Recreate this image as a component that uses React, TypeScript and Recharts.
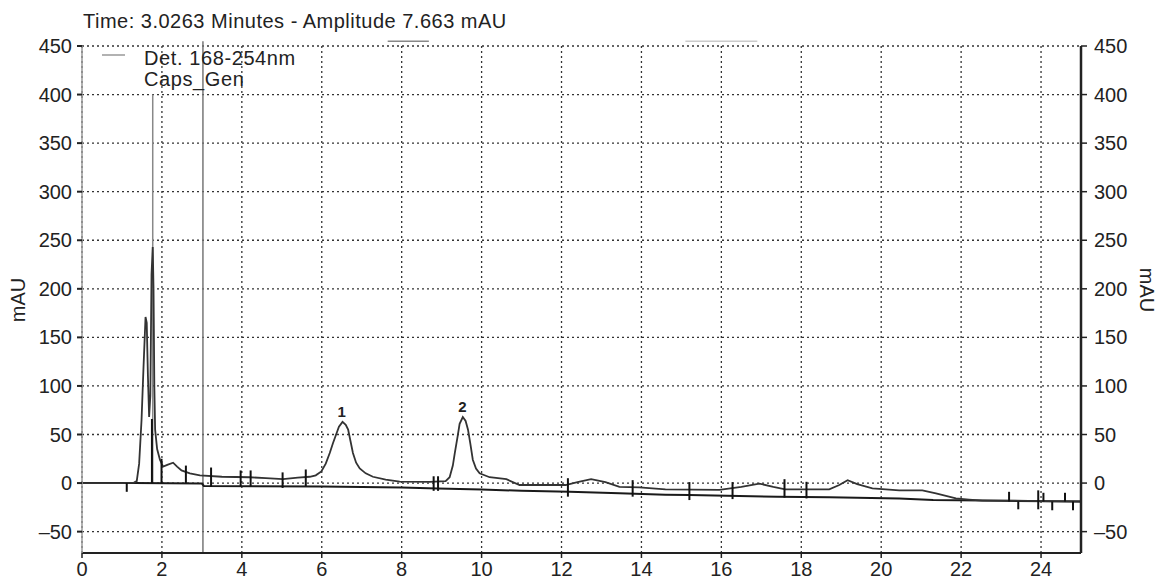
import React from "react";
import {
  LineChart,
  Line,
  XAxis,
  YAxis,
  CartesianGrid,
  ReferenceLine,
  ReferenceDot,
} from "recharts";

// Chromatogram signal (time in minutes, amplitude in mAU)
const signalTime = [
  0, 0.5, 1.0, 1.3, 1.37, 1.43, 1.49, 1.54, 1.59, 1.62, 1.65, 1.68, 1.71, 1.74, 1.77, 1.79, 1.81, 1.83,
  1.88, 1.95, 2.03, 2.15, 2.28, 2.38, 2.49, 2.7, 2.95, 3.5, 4.2, 4.6, 5.03, 5.4, 5.7, 5.85, 5.99, 6.1,
  6.2, 6.28, 6.43, 6.52, 6.6, 6.66, 6.72, 6.78, 6.86, 6.95, 7.1, 7.28, 7.6, 7.95, 8.7, 9.1, 9.2, 9.28,
  9.33, 9.4, 9.45, 9.53, 9.6, 9.66, 9.72, 9.78, 9.86, 9.95, 10.2, 10.62, 10.95, 11.6, 12.1, 12.4, 12.74,
  13.1, 13.45, 13.95, 14.6, 15.95, 16.5, 16.95, 17.3, 17.6, 18.7, 18.95, 19.16, 19.4, 19.78, 20.45, 21.03,
  21.37, 21.87, 22.2, 22.53, 23.16, 24, 25,
];
const signalValue = [
  0, 0, 0, 0.5, 2, 20, 65, 120, 171, 165, 110, 68, 90, 215, 243, 200, 100, 55,
  35, 24, 17, 19, 21, 17, 13, 10, 8, 6.5, 6, 5, 4, 5.5, 6.5, 8, 12, 20,
  31, 41, 58, 63, 60, 55, 43, 31, 21, 15, 10, 6.5, 3.5, 1.5, 1.3, 2, 6, 18,
  31, 48, 61, 68, 64, 55, 40, 24, 15, 10, 6, 4, -2, -2, -2, 1, 4,
  1, -4, -4.5, -6.5, -7, -4, -0.5, -4, -6.5, -6.5, -2, 3, -1, -5.5, -7.5, -7.5,
  -10.6, -15.8, -17, -18, -18, -18.5, -19,
];

// Integration baseline
const baseTime = [0, 1.3, 3.0, 3.05, 6.0, 8.0, 8.9, 10.0, 11.0, 12.2, 13.45, 14.6, 15.2, 17.4, 18.7, 20.45, 21.3, 22.53, 25];
const baseValue = [0, 0, -0.5, -3, -3.5, -4.5, -5.5, -6.5, -8, -9, -10.6, -12, -12.4, -14, -14.5, -15.8, -17.5, -18, -19];

// Peak start/end event markers
const markerTime = [1.12, 1.75, 1.99, 2.6, 3.23, 3.97, 4.22, 5.02, 5.6, 8.8, 8.91, 12.16, 13.78, 15.2, 16.28, 17.58, 18.13, 23.2, 23.43, 23.93, 24.06, 24.28, 24.6, 24.8];
const markerLow = [-9, 0, 0, 0, -4, -3, -3, -5, -3, -8, -8, -14, -14, -17.5, -16.5, -15, -15.8, -19, -27, -27, -19, -28, -19, -28];
const markerHigh = [0, 66, 25, 18, 16, 13, 13, 11, 14, 7, 7, 5, 3, 1, 1, 4, 1.3, -9, -19, -7.5, -10, -19, -10, -19];

// Peak labels
const peakNames = ["1", "2"];
const peakTime = [6.5, 9.52];
const peakLabelY = [74, 78.5];

// Axes
const xTicks = [0, 2, 4, 6, 8, 10, 12, 14, 16, 18, 20, 22, 24];
const xMinorTicks = Array.from({ length: 101 }, (_, i) => i * 0.25);
const yTicks = [-50, 0, 50, 100, 150, 200, 250, 300, 350, 400, 450];
const yMinorTicks = Array.from({ length: 52 }, (_, i) => -70 + i * 10);
const xDomain = [0, 25];
const yDomain = [-72, 450];

const cursorTime = 3.0263;
const titleText = "Time: 3.0263 Minutes - Amplitude 7.663 mAU";
const legendLine1 = "Det. 168-254nm";
const legendLine2 = "Caps_Gen";

const signalData = signalTime.map((t, i) => ({ t, v: signalValue[i] }));
const baseData = baseTime.map((t, i) => ({ t, v: baseValue[i] }));

const FONT = "'Liberation Sans', Arial, sans-serif";
const tickStyle = { fontSize: 20, fill: "#222", fontFamily: FONT };
const fmtY = (v: number) => (v < 0 ? "\u2013" + Math.abs(v) : String(v));

export default function App() {
  return (
    <div style={{ position: "absolute", left: 0, top: 0, width: 1161, height: 583, background: "#fff" }}>
      <LineChart width={1161} height={583} margin={{ top: 46, right: 0, bottom: 0, left: 0 }}>
        <XAxis
          xAxisId="minor"
          type="number"
          dataKey="t"
          domain={xDomain}
          ticks={xMinorTicks}
          allowDataOverflow
          height={0}
          tick={false}
          axisLine={false}
          tickSize={3}
          tickLine={{ stroke: "#666" }}
        />
        <XAxis
          xAxisId="main"
          type="number"
          dataKey="t"
          domain={xDomain}
          ticks={xTicks}
          allowDataOverflow
          height={30}
          tickSize={5}
          tickMargin={4}
          axisLine={{ stroke: "#222", strokeWidth: 2 }}
          tickLine={{ stroke: "#222", strokeWidth: 1.5 }}
          tick={tickStyle}
        />
        <YAxis
          yAxisId="left"
          type="number"
          domain={yDomain}
          ticks={yTicks}
          allowDataOverflow
          width={82}
          tickSize={5}
          tickMargin={5}
          tickFormatter={fmtY}
          axisLine={{ stroke: "#999", strokeWidth: 1.5 }}
          tickLine={{ stroke: "#222", strokeWidth: 2 }}
          tick={tickStyle}
        />
        <YAxis
          yAxisId="leftMinor"
          type="number"
          domain={yDomain}
          ticks={yMinorTicks}
          allowDataOverflow
          width={0}
          tickSize={3}
          tick={false}
          axisLine={false}
          tickLine={{ stroke: "#999" }}
        />
        <YAxis
          yAxisId="right"
          orientation="right"
          type="number"
          domain={yDomain}
          ticks={yTicks}
          allowDataOverflow
          width={80}
          tickSize={6}
          tickMargin={7}
          tickFormatter={fmtY}
          axisLine={{ stroke: "#222", strokeWidth: 2.5 }}
          tickLine={{ stroke: "#222", strokeWidth: 1.5 }}
          tick={tickStyle}
        />
        <YAxis
          yAxisId="rightMinor"
          orientation="right"
          type="number"
          domain={yDomain}
          ticks={yMinorTicks}
          allowDataOverflow
          width={0}
          mirror
          tickSize={3}
          tick={false}
          axisLine={false}
          tickLine={{ stroke: "#444" }}
        />
        <CartesianGrid
          xAxisId="main"
          yAxisId="left"
          stroke="#333"
          strokeDasharray="2 3"
          strokeWidth={1.3}
        />
        <ReferenceLine
          xAxisId="main"
          yAxisId="left"
          segment={[{ x: cursorTime, y: 455 }, { x: cursorTime, y: -72 }]}
          stroke="#777"
          strokeWidth={1.5}
          ifOverflow="visible"
        />
        <ReferenceLine
          xAxisId="main"
          yAxisId="left"
          segment={[{ x: 1.77, y: 400 }, { x: 1.77, y: 0 }]}
          stroke="#888"
          strokeWidth={1.5}
          ifOverflow="visible"
        />
        <ReferenceLine
          xAxisId="main"
          yAxisId="left"
          segment={[{ x: 7.65, y: 455 }, { x: 8.68, y: 455 }]}
          stroke="#888"
          strokeWidth={1.5}
          ifOverflow="visible"
        />
        <ReferenceLine
          xAxisId="main"
          yAxisId="left"
          segment={[{ x: 15.1, y: 455 }, { x: 16.9, y: 455 }]}
          stroke="#ccc"
          strokeWidth={1.5}
          ifOverflow="visible"
        />
        <Line
          xAxisId="main"
          yAxisId="left"
          data={baseData}
          dataKey="v"
          type="linear"
          dot={false}
          stroke="#1a1a1a"
          strokeWidth={2}
          isAnimationActive={false}
        />
        <Line
          xAxisId="main"
          yAxisId="left"
          data={signalData}
          dataKey="v"
          type="linear"
          dot={false}
          stroke="#333"
          strokeWidth={1.8}
          isAnimationActive={false}
        />
        {markerTime.map((t, i) => (
          <ReferenceLine
            key={"m" + i}
            xAxisId="main"
            yAxisId="left"
            segment={[{ x: t, y: markerLow[i] }, { x: t, y: markerHigh[i] }]}
            stroke="#111"
            strokeWidth={2}
            ifOverflow="visible"
          />
        ))}
        {peakNames.map((n, i) => (
          <ReferenceDot
            key={"p" + i}
            xAxisId="main"
            yAxisId="left"
            x={peakTime[i]}
            y={peakLabelY[i]}
            r={0}
            fill="none"
            stroke="none"
            label={{ value: n, position: "center", fontSize: 15, fontWeight: "bold", fill: "#222", fontFamily: FONT }}
          />
        ))}
      </LineChart>
      <svg
        width={1161}
        height={583}
        style={{ position: "absolute", left: 0, top: 0, pointerEvents: "none" }}
        fontFamily={FONT}
      >
        <text x={83} y={28} fontSize={20} fill="#222" letterSpacing={0.5}>
          {titleText}
        </text>
        <line x1={102} y1={55} x2={125} y2={55} stroke="#999" strokeWidth={1.5} />
        <text x={144} y={65} fontSize={20} fill="#222" letterSpacing={0.6}>
          {legendLine1}
        </text>
        <text x={144} y={86} fontSize={20} fill="#222" letterSpacing={0.6}>
          {legendLine2}
        </text>
        <text x={25} y={300} fontSize={20} fill="#222" textAnchor="middle" transform="rotate(-90 25 300)">
          mAU
        </text>
        <text x={1140} y={290} fontSize={20} fill="#222" textAnchor="middle" transform="rotate(90 1140 290)">
          mAU
        </text>
      </svg>
    </div>
  );
}
